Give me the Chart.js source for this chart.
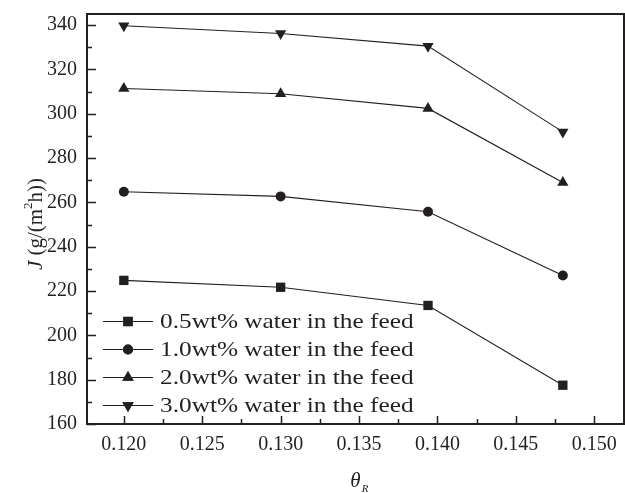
<!DOCTYPE html>
<html>
<head>
<meta charset="utf-8">
<script src="https://cdn.jsdelivr.net/npm/chart.js@4.4.1/dist/chart.umd.min.js"></script>
<style>
html,body{margin:0;padding:0;background:#fff;}
#wrap{width:625px;height:493px;position:relative;}
</style>
</head>
<body>
<div id="wrap"><canvas id="c" width="625" height="493"></canvas></div>
<script>
// ---- data ----
const thetaR = [0.120, 0.130, 0.1394, 0.1480];
const feed05 = [224.8, 221.7, 213.5, 177.5];
const feed10 = [264.8, 262.7, 255.8, 227.0];
const feed20 = [311.4, 309.0, 302.4, 269.0];
const feed30 = [339.7, 336.2, 330.5, 291.8];
const seriesLabels = ["0.5wt% water in the feed", "1.0wt% water in the feed", "2.0wt% water in the feed", "3.0wt% water in the feed"];
const xTicks = [0.120, 0.125, 0.130, 0.135, 0.140, 0.145, 0.150];
const yTicks = [160, 180, 200, 220, 240, 260, 280, 300, 320, 340];

const INK = '#231f20';
const SERIF = '"Liberation Serif","Times New Roman",serif';

function pts(ys){ return thetaR.map((x,i)=>({x:x, y:ys[i]})); }
function ds(label, ys, style, rot, r){
  return {label, data: pts(ys), borderColor: INK, backgroundColor: INK, borderWidth: 1.1,
    pointStyle: style, pointRotation: rot, pointRadius: r, pointHoverRadius: r,
    pointBorderWidth: 0, fill:false, tension:0};
}

const customDraw = {
  id: 'customDraw',
  afterDraw(chart){
    const ctx = chart.ctx, a = chart.chartArea;
    const xs = chart.scales.x, ys = chart.scales.y;
    ctx.save();
    ctx.strokeStyle = INK;
    // box
    ctx.lineWidth = 2;
    ctx.strokeRect(a.left, a.top, a.right - a.left, a.bottom - a.top);
    // inward ticks
    ctx.lineWidth = 1.5;
    ctx.beginPath();
    for (let i = 0; i < xTicks.length; i++){
      const px = Math.round(xs.getPixelForValue(xTicks[i])) + 0.5;
      ctx.moveTo(px, a.bottom); ctx.lineTo(px, a.bottom - 8);
      if (i < xTicks.length - 1){
        const pm = Math.round(xs.getPixelForValue((xTicks[i] + xTicks[i+1]) / 2)) + 0.5;
        ctx.moveTo(pm, a.bottom); ctx.lineTo(pm, a.bottom - 5);
      }
    }
    for (let i = 0; i < yTicks.length; i++){
      const py = Math.round(ys.getPixelForValue(yTicks[i])) + 0.5;
      ctx.moveTo(a.left, py); ctx.lineTo(a.left + 9, py);
      const mv = yTicks[i] + 10;
      if (mv < ys.max){
        const pm = Math.round(ys.getPixelForValue(mv)) + 0.5;
        ctx.moveTo(a.left, pm); ctx.lineTo(a.left + 5, pm);
      }
    }
    ctx.stroke();

    // legend
    const rows = [321.5, 349.5, 377.5, 405.5];
    chart.data.datasets.forEach((d, i) => {
      const y = rows[i];
      ctx.strokeStyle = INK; ctx.lineWidth = 1.1;
      ctx.beginPath(); ctx.moveTo(103, y); ctx.lineTo(153, y); ctx.stroke();
      ctx.fillStyle = INK;
      Chart.helpers.drawPoint(ctx, {pointStyle: d.pointStyle, rotation: d.pointRotation, radius: d.pointRadius, borderWidth: 0}, 128, y);
      ctx.fill();
      ctx.save();
      ctx.translate(160, y + 1);
      ctx.scale(1.15, 1);
      ctx.font = '22px ' + SERIF;
      ctx.textBaseline = 'middle';
      ctx.textAlign = 'left';
      ctx.fillText(d.label, 0, 0);
      ctx.restore();
    });

    // axis titles
    ctx.fillStyle = INK;
    // x title: theta_R
    ctx.textBaseline = 'alphabetic';
    ctx.textAlign = 'left';
    ctx.font = 'italic 21px ' + SERIF;
    const cx = (a.left + a.right) / 2;
    const tw = ctx.measureText('\u03B8').width;
    ctx.fillText('\u03B8', cx - tw / 2, 487);
    ctx.font = 'italic 11px ' + SERIF;
    ctx.fillText('R', cx + tw / 2 + 1, 492);

    // y title: J (g/(m^2h))
    ctx.save();
    ctx.translate(42, 224);
    ctx.rotate(-Math.PI / 2);
    const parts = [
      {t: 'J', f: 'italic 21px ' + SERIF, dy: 0},
      {t: ' (g/(m', f: '21px ' + SERIF, dy: 0},
      {t: '2', f: '13px ' + SERIF, dy: -10},
      {t: 'h))', f: '21px ' + SERIF, dy: 0}
    ];
    let total = 0;
    parts.forEach(p => { ctx.font = p.f; total += ctx.measureText(p.t).width; });
    let x0 = -total / 2;
    parts.forEach(p => { ctx.font = p.f; ctx.fillText(p.t, x0, p.dy); x0 += ctx.measureText(p.t).width; });
    ctx.restore();
    ctx.restore();
  }
};

new Chart(document.getElementById('c'), {
  type: 'line',
  data: {
    datasets: [
      ds(seriesLabels[0], feed05, 'rect', 0, 6.6),
      ds(seriesLabels[1], feed10, 'circle', 0, 5),
      ds(seriesLabels[2], feed20, 'triangle', 0, 6.5),
      ds(seriesLabels[3], feed30, 'triangle', 180, 6.5)
    ]
  },
  options: {
    responsive: false,
    animation: false,
    devicePixelRatio: 1,
    layout: {autoPadding: false, padding: {top: 14, right: 1, left: 0, bottom: 0}},
    plugins: {legend: {display: false}, tooltip: {enabled: false}},
    scales: {
      x: {
        type: 'linear', min: 0.11765, max: 0.1519,
        afterBuildTicks: s => { s.ticks = xTicks.map(v => ({value: v})); },
        afterFit: s => { s.height = 69; s.paddingLeft = 0; s.paddingRight = 0; },
        grid: {display: false},
        border: {display: false},
        ticks: {color: INK, font: {family: SERIF, size: 20}, padding: 1, maxRotation: 0,
          callback: v => Number(v).toFixed(3)}
      },
      y: {
        type: 'linear', min: 160, max: 345,
        afterBuildTicks: s => { s.ticks = yTicks.map(v => ({value: v})); },
        afterFit: s => { s.width = 87; s.paddingTop = 0; s.paddingBottom = 0; },
        grid: {display: false},
        border: {display: false},
        ticks: {color: INK, font: {family: SERIF, size: 20}, padding: 2,
          callback: v => String(v)}
      }
    }
  },
  plugins: [customDraw]
});
</script>
</body>
</html>
